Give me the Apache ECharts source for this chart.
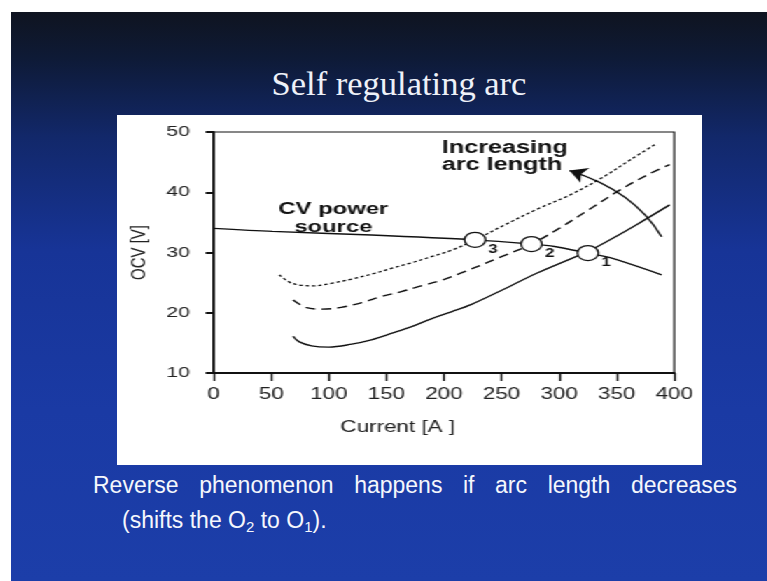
<!DOCTYPE html>
<html>
<head>
<meta charset="utf-8">
<script src="https://cdn.jsdelivr.net/npm/echarts@6/dist/echarts.min.js"></script>
<style>
  html, body { margin: 0; padding: 0; background: #ffffff; }
  #bg { position: absolute; left: 0; top: 0; width: 767px; height: 581px; }
  #fig { position: absolute; left: 117px; top: 115px; width: 418px; height: 350px;
         transform: scaleX(1.4); transform-origin: 0 0; }
</style>
</head>
<body>
<div id="bg"></div>
<div id="fig"></div>
<script>
// ---- texts ----
const titleText = 'Self regulating arc';
const footerLine1 = 'Reverse phenomenon happens if arc length decreases';
const footerLine2 = '(shifts the O{sub|2} to O{sub|1}).';
const xAxisName = 'Current [A ]';
const yAxisName = 'OCV [V]';
const cvText = 'CV power\nsource';
const arcText = 'Increasing\narc length';

// ---- axis ticks ----
const xMin = 0, xMax = 400, xStep = 50;
const yMin = 10, yMax = 50, yStep = 10;

// ---- CV power source characteristic ----
const cvCurrent = [0, 51, 137, 227, 276, 296, 325, 345, 389];
const cvVoltage = [34.0, 33.5, 32.9, 32.1, 31.4, 31.0, 29.9, 29.1, 26.3];

// ---- arc characteristics (solid = shortest arc) ----
const arc1Current = [69, 74, 85, 100, 120, 137, 155, 172, 189, 207, 224, 252, 281, 325, 345, 368, 396];
const arc1Voltage = [16.1, 15.2, 14.5, 14.3, 14.8, 15.5, 16.6, 17.7, 19.0, 20.2, 21.4, 23.9, 26.6, 30.2, 32.2, 34.7, 37.9];

const arc2Current = [69, 80, 94, 111, 129, 146, 163, 181, 198, 215, 250, 276, 300, 325, 353, 379, 396];
const arc2Voltage = [22.1, 20.9, 20.6, 20.9, 21.7, 22.7, 23.5, 24.5, 25.4, 26.6, 29.3, 31.4, 34.0, 37.0, 40.4, 43.1, 44.6];

const arc3Current = [57, 68, 86, 103, 120, 137, 155, 172, 189, 207, 227, 253, 281, 310, 339, 362, 384];
const arc3Voltage = [26.3, 24.9, 24.45, 24.9, 25.6, 26.4, 27.4, 28.3, 29.3, 30.4, 32.1, 34.6, 37.2, 39.6, 42.6, 45.4, 48.0];

// ---- operating points ----
const opCurrent = [227, 276, 325];
const opVoltage = [32.1, 31.4, 29.9];
const opLabels = ['3', '2', '1'];

// ---- "increasing arc length" arrow (data space) ----
const arrowFrom = [389, 32.6];
const arrowTo = [309, 43.6];

function zip(a, b) { return a.map((v, i) => [v, b[i]]); }

// ================= slide background, title, footer =================
const bg = echarts.init(document.getElementById('bg'), null, { renderer: 'svg', width: 767, height: 581 });
const sans = '"Liberation Sans", Arial, sans-serif';
bg.setOption({
  animation: false,
  backgroundColor: '#ffffff',
  graphic: [
    {
      type: 'rect', silent: true,
      shape: { x: 11, y: 12, width: 756, height: 569 },
      style: {
        fill: new echarts.graphic.LinearGradient(0, 0, 0, 1, [
          { offset: 0, color: '#0f1420' },
          { offset: 0.08, color: '#0e1a36' },
          { offset: 0.22, color: '#12286a' },
          { offset: 0.42, color: '#173497' },
          { offset: 0.7, color: '#1a3aa4' },
          { offset: 1, color: '#1c3ea9' }
        ])
      }
    },
    {
      type: 'text', x: 399, y: 83,
      style: {
        text: titleText, fill: '#eef1f8',
        fontSize: 34.5, fontFamily: '"Liberation Serif", "DejaVu Serif", serif',
        align: 'center', verticalAlign: 'middle',
        textAlign: 'center', textVerticalAlign: 'middle'
      }
    },
    {
      type: 'text', x: 93, y: 485,
      style: {
        text: footerLine1, fill: '#f5f7fc',
        fontSize: 23, fontFamily: sans,
        align: 'left', verticalAlign: 'middle',
        textAlign: 'left', textVerticalAlign: 'middle'
      }
    },
    {
      type: 'text', x: 122, y: 506.5,
      style: {
        text: footerLine2, fill: '#f5f7fc',
        fontSize: 23, fontFamily: sans,
        lineHeight: 27,
        align: 'left', verticalAlign: 'top',
        textAlign: 'left', textVerticalAlign: 'top',
        rich: {
          sub: { fontSize: 15, lineHeight: 11, verticalAlign: 'bottom',
                 fontFamily: sans, fill: '#f5f7fc' }
        }
      }
    }
  ]
});

function justifyFooter() {
  const el = Array.from(document.querySelectorAll('#bg text')).find(e => (e.textContent || '').indexOf('Reverse') === 0);
  if (!el) return;
  const c = document.createElement('canvas').getContext('2d');
  c.font = '23px "Liberation Sans"';
  const w = c.measureText(footerLine1).width;
  const gaps = footerLine1.split(' ').length - 1;
  el.style.wordSpacing = (((737 - 93) - w) / gaps).toFixed(2) + 'px';
}
justifyFooter();
bg.on('finished', justifyFooter);
setTimeout(justifyFooter, 50);

// ================= figure =================
const fig = echarts.init(document.getElementById('fig'), null, { renderer: 'canvas', width: 418, height: 350 });
const ink = '#111111';

fig.setOption({
  animation: false,
  backgroundColor: '#ffffff',
  grid: { left: 67, right: 20, top: 17, bottom: 92, show: true, borderColor: ink, borderWidth: 1.2, backgroundColor: 'transparent' },
  xAxis: {
    type: 'value', min: xMin, max: xMax, interval: xStep,
    axisLine: { show: true, onZero: false, lineStyle: { color: ink, width: 2 } },
    axisTick: { show: true, inside: false, length: 8, lineStyle: { color: ink, width: 1.4 } },
    axisLabel: { show: true, fontSize: 16, color: '#222', margin: 14, fontFamily: sans },
    splitLine: { show: false },
    name: xAxisName, nameLocation: 'middle', nameGap: 47,
    nameTextStyle: { fontSize: 16, color: '#222', fontFamily: sans, padding: [0, 66, 0, 0] }
  },
  yAxis: {
    type: 'value', min: yMin, max: yMax, interval: yStep,
    axisLine: { show: true, onZero: false, lineStyle: { color: ink, width: 1.8 } },
    axisTick: { show: true, inside: false, length: 5.7, lineStyle: { color: ink, width: 2 } },
    axisLabel: { show: true, fontSize: 15, color: '#222', margin: 17, fontFamily: sans },
    splitLine: { show: false },
    name: yAxisName, nameLocation: 'middle', nameGap: 46, nameRotate: 90,
    nameTextStyle: { fontSize: 15, color: '#222', fontFamily: sans }
  },
  graphic: [
    {
      type: 'text', x: 154.5, y: 85,
      style: {
        text: cvText, fill: ink, fontSize: 17, fontWeight: 'bold', fontFamily: sans,
        lineHeight: 18, align: 'center', verticalAlign: 'top',
        textAlign: 'center', textVerticalAlign: 'top'
      }
    },
    {
      type: 'text', x: 232, y: 25,
      style: {
        text: arcText, fill: ink, fontSize: 18, fontWeight: 'bold', fontFamily: sans,
        lineHeight: 17, align: 'left', verticalAlign: 'top',
        textAlign: 'left', textVerticalAlign: 'top'
      }
    }
  ],
  series: [
    {
      name: 'CV power source', type: 'line', data: zip(cvCurrent, cvVoltage),
      symbol: 'none', smooth: 0.3, silent: true, z: 3,
      lineStyle: { color: ink, width: 1.4 }
    },
    {
      name: 'arc 1', type: 'line', data: zip(arc1Current, arc1Voltage),
      symbol: 'none', smooth: 0.35, silent: true, z: 3,
      lineStyle: { color: ink, width: 1.4, type: 'solid' }
    },
    {
      name: 'arc 2', type: 'line', data: zip(arc2Current, arc2Voltage),
      symbol: 'none', smooth: 0.35, silent: true, z: 3,
      lineStyle: { color: ink, width: 1.4, type: [7, 4.5] }
    },
    {
      name: 'arc 3', type: 'line', data: zip(arc3Current, arc3Voltage),
      symbol: 'none', smooth: 0.35, silent: true, z: 3,
      lineStyle: { color: ink, width: 1.3, type: [2.5, 2] }
    },
    {
      name: 'arc length arrow', type: 'lines', coordinateSystem: 'cartesian2d',
      silent: true, z: 4,
      symbol: ['none', 'arrow'], symbolSize: 12,
      lineStyle: { color: ink, width: 1.4, opacity: 1, curveness: -0.2 },
      data: [{ coords: [arrowFrom, arrowTo] }]
    },
    {
      name: 'operating points', type: 'scatter', z: 6, silent: true,
      data: opCurrent.map((c, i) => ({ name: opLabels[i], value: [c, opVoltage[i]] })),
      symbol: 'circle', symbolSize: 15,
      itemStyle: { color: '#ffffff', borderColor: ink, borderWidth: 1.3, opacity: 1 },
      label: {
        show: true, formatter: '{b}', position: 'inside', offset: [13, 10],
        fontSize: 12, fontWeight: 'bold', color: ink, fontFamily: sans
      }
    }
  ]
});
</script>
</body>
</html>
